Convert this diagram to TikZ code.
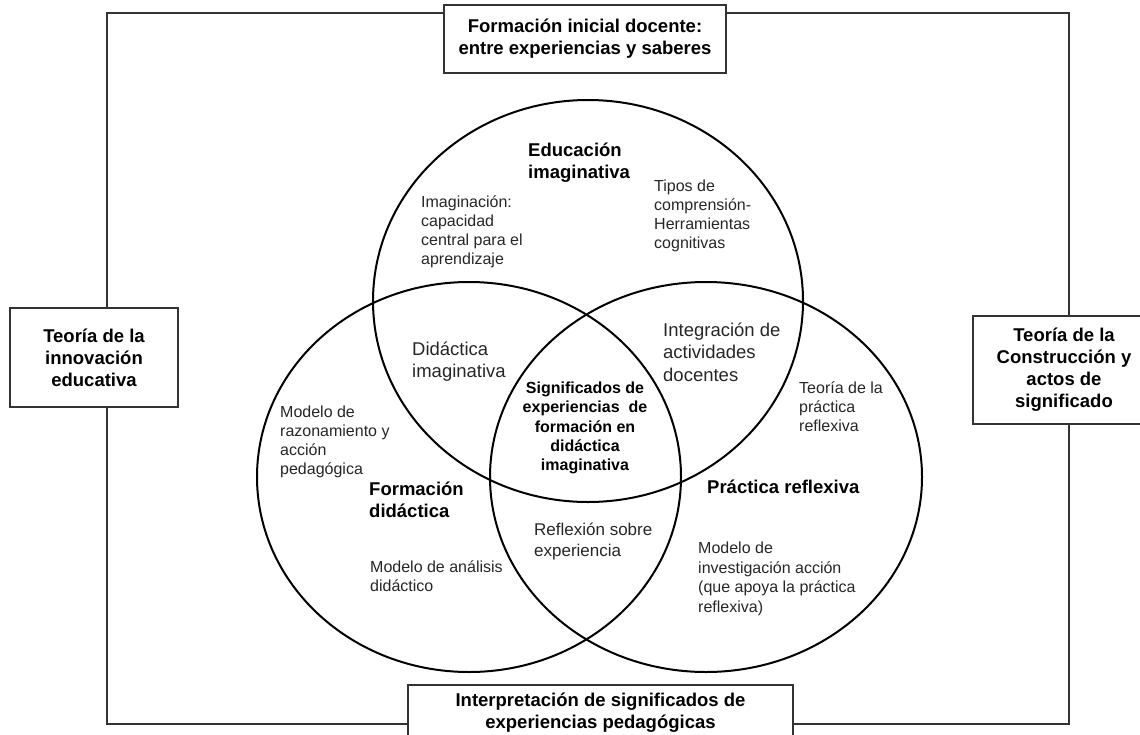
\documentclass[tikz,border=0pt]{standalone}
\usepackage{fontspec}
\setmainfont{Liberation Sans}
\usetikzlibrary{shapes.geometric}
\definecolor{txt}{HTML}{262626}
\definecolor{framec}{HTML}{333333}
\newcommand\Lt[1]{\vtop{\halign{##\hfil\cr#1\crcr}}}
\newcommand\Ct[1]{\vtop{\halign{\hfil##\hfil\cr#1\crcr}}}
\tikzset{
 circ/.style={draw=black, line width=2pt, ellipse, inner sep=0pt},
 box/.style={draw=framec, line width=1.3pt, fill=white, align=center, text=black,
   font=\bfseries\fontsize{18.5}{22}\selectfont, inner sep=0pt},
 reg/.style={anchor=base west, inner sep=0pt, text=txt, font=\fontsize{16}{19}\selectfont},
 big/.style={anchor=base west, inner sep=0pt, text=txt, font=\fontsize{18.5}{22.5}\selectfont},
 bld/.style={anchor=base west, inner sep=0pt, text=black, font=\bfseries\fontsize{18.5}{22.5}\selectfont},
 bsm/.style={anchor=base, inner sep=0pt, text=black, font=\bfseries\fontsize{16}{19.3}\selectfont},
}
\begin{document}
\begin{tikzpicture}[x=1pt,y=-1pt]
\useasboundingbox (0,0) rectangle (1140,734);
% frame
\coordinate (ftl) at (107,13);
\coordinate (fbr) at (1069,724);
\draw[framec, line width=1.3pt] (ftl) rectangle (fbr);
% circles
\node[circ, minimum width=430pt, minimum height=402pt] (ctop) at (588,301) {};
\node[circ, minimum width=424pt, minimum height=390pt] (cleft) at (469,477) {};
\node[circ, minimum width=432pt, minimum height=390pt] (cright) at (706,477) {};
% boxes
\node[box, minimum width=282pt, minimum height=68pt] (topbox) at (585,39)
  {Formación inicial docente:\\entre experiencias y saberes};
\node[box, minimum width=168pt, minimum height=99pt] (leftbox) at (94,357.5)
  {Teoría de la\\innovación\\educativa};
\node[box, minimum width=182pt, minimum height=108pt] (rightbox) at (1064,370)
  {Teoría de la\\Construcción y\\actos de\\significado};
\node[box, minimum width=385pt, minimum height=56pt] (botbox) at (600.5,713)
  {Interpretación de significados de\\experiencias pedagógicas};
% texts
\node[bld] (edu) at (528,156) {\Lt{Educación\cr imaginativa}};
\node[reg] (imag) at (421,207.5) {\Lt{Imaginación:\cr capacidad\cr central para el\cr aprendizaje}};
\node[reg] (tipos) at (654,191.5) {\Lt{Tipos de\cr comprensión-\cr Herramientas\cr cognitivas}};
\node[big] (didimag) at (412,355) {\Lt{Didáctica\cr imaginativa}};
\node[big] (integ) at (663,336) {\Lt{Integración de\cr actividades\cr docentes}};
\node[bsm] (signif) at (585,393.5) {\Ct{Significados de\cr experiencias\ \ de\cr formación en\cr didáctica\cr imaginativa}};
\node[reg] (modrazon) at (280,417.5) {\Lt{Modelo de\cr razonamiento y\cr acción\cr pedagógica}};
\node[reg] (teoprac) at (799,393.5) {\Lt{Teoría de la\cr práctica\cr reflexiva}};
\node[bld] (formdid) at (369,495) {\Lt{Formación\cr didáctica}};
\node[bld] (pracref) at (707,493) {\Lt{Práctica reflexiva}};
\node[reg, font=\fontsize{17}{21}\selectfont] (reflex) at (534,535.7) {\Lt{Reflexión sobre\cr experiencia}};
\node[reg] (modanal) at (370,572.5) {\Lt{Modelo de análisis\cr didáctico}};
\node[reg, font=\fontsize{16}{19.5}\selectfont] (modinv) at (698,553.5) {\Lt{Modelo de\cr investigación acción\cr (que apoya la práctica\cr reflexiva)}};
\end{tikzpicture}
\end{document}
